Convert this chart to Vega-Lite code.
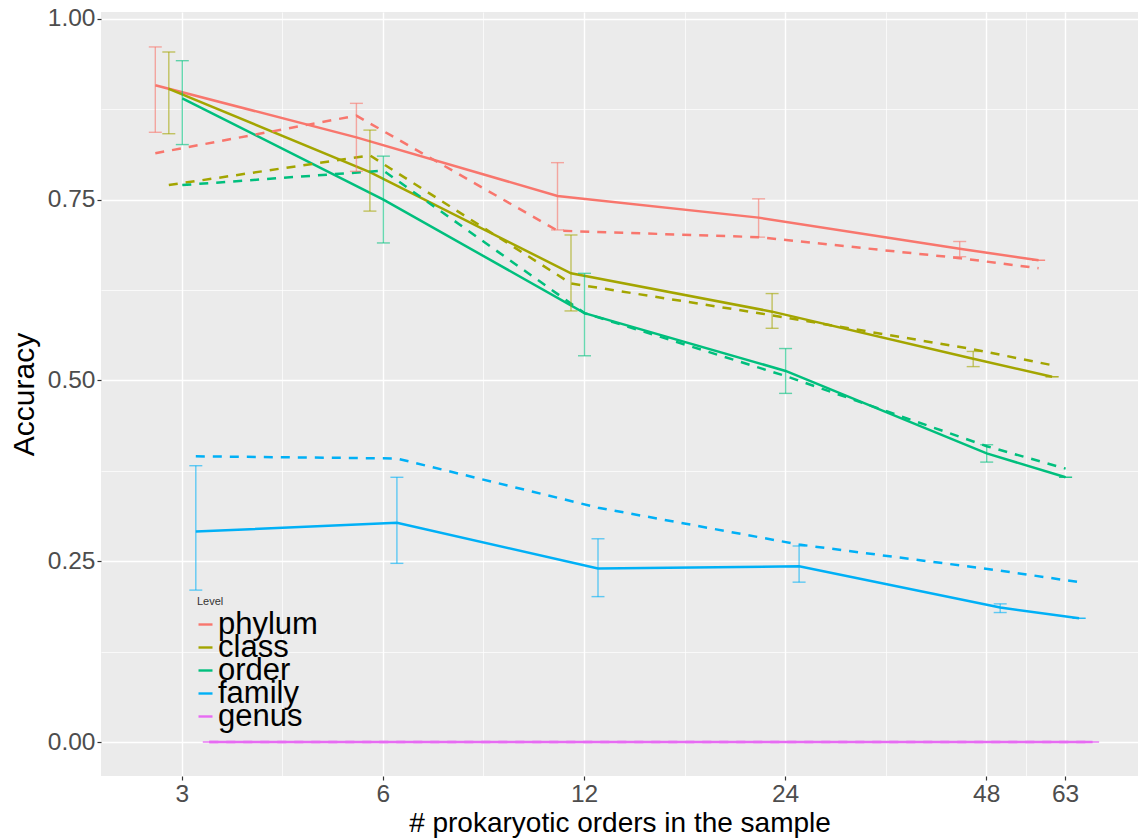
{
  "$schema": "https://vega.github.io/schema/vega-lite/v6.json",
  "width": 1037,
  "height": 764,
  "autosize": {"type": "none"},
  "padding": {"left": 101, "top": 12, "right": 0, "bottom": 62},
  "background": "white",
  "config": {
    "view": {"fill": "#EBEBEB", "stroke": null},
    "font": "Liberation Sans",
    "axis": {
      "domain": false,
      "gridColor": "white",
      "tickColor": "#333333",
      "tickSize": 4,
      "tickWidth": 1.2,
      "labelColor": "#4D4D4D",
      "labelFontSize": 24.5,
      "labelFont": "Liberation Sans",
      "titleFont": "Liberation Sans",
      "titleFontWeight": "normal",
      "titleColor": "black",
      "labelOverlap": false,
      "labelFlush": false
    },
    "legend": {
      "orient": "none",
      "legendX": 96,
      "legendY": 584,
      "padding": 0,
      "titleFontSize": 11,
      "titleFontWeight": "normal",
      "titleColor": "#333333",
      "titleFont": "Liberation Sans",
      "titlePadding": 2,
      "labelFontSize": 31,
      "labelFont": "Liberation Sans",
      "labelColor": "black",
      "labelOffset": -3,
      "symbolOffset": -7,
      "symbolType": "stroke",
      "symbolSize": 196,
      "symbolStrokeWidth": 2.4,
      "symbolOpacity": 1
    }
  },
  "data": {
    "values": [
      {"n": 3, "Level": "phylum", "Method": "A", "acc": 0.908, "lo": 0.843, "hi": 0.961},
      {"n": 6, "Level": "phylum", "Method": "A", "acc": 0.836, "lo": 0.789, "hi": 0.883},
      {"n": 12, "Level": "phylum", "Method": "A", "acc": 0.755, "lo": 0.708, "hi": 0.801},
      {"n": 24, "Level": "phylum", "Method": "A", "acc": 0.725, "lo": 0.698, "hi": 0.751},
      {"n": 48, "Level": "phylum", "Method": "A", "acc": 0.682, "lo": 0.671, "hi": 0.692},
      {"n": 63, "Level": "phylum", "Method": "A", "acc": 0.666, "lo": 0.666, "hi": 0.666},
      {"n": 3, "Level": "class", "Method": "A", "acc": 0.903, "lo": 0.841, "hi": 0.954},
      {"n": 6, "Level": "class", "Method": "A", "acc": 0.788, "lo": 0.734, "hi": 0.846},
      {"n": 12, "Level": "class", "Method": "A", "acc": 0.648, "lo": 0.596, "hi": 0.701},
      {"n": 24, "Level": "class", "Method": "A", "acc": 0.595, "lo": 0.572, "hi": 0.62},
      {"n": 48, "Level": "class", "Method": "A", "acc": 0.53, "lo": 0.519, "hi": 0.54},
      {"n": 63, "Level": "class", "Method": "A", "acc": 0.505, "lo": 0.505, "hi": 0.505},
      {"n": 3, "Level": "order", "Method": "A", "acc": 0.89, "lo": 0.826, "hi": 0.942},
      {"n": 6, "Level": "order", "Method": "A", "acc": 0.75, "lo": 0.69, "hi": 0.81},
      {"n": 12, "Level": "order", "Method": "A", "acc": 0.593, "lo": 0.534, "hi": 0.648},
      {"n": 24, "Level": "order", "Method": "A", "acc": 0.513, "lo": 0.482, "hi": 0.544},
      {"n": 48, "Level": "order", "Method": "A", "acc": 0.399, "lo": 0.387, "hi": 0.411},
      {"n": 63, "Level": "order", "Method": "A", "acc": 0.366, "lo": 0.366, "hi": 0.366},
      {"n": 3, "Level": "family", "Method": "A", "acc": 0.291, "lo": 0.21, "hi": 0.382},
      {"n": 6, "Level": "family", "Method": "A", "acc": 0.303, "lo": 0.247, "hi": 0.366},
      {"n": 12, "Level": "family", "Method": "A", "acc": 0.24, "lo": 0.201, "hi": 0.281},
      {"n": 24, "Level": "family", "Method": "A", "acc": 0.243, "lo": 0.221, "hi": 0.271},
      {"n": 48, "Level": "family", "Method": "A", "acc": 0.186, "lo": 0.179, "hi": 0.191},
      {"n": 63, "Level": "family", "Method": "A", "acc": 0.171, "lo": 0.171, "hi": 0.171},
      {"n": 3, "Level": "genus", "Method": "A", "acc": 0, "lo": 0, "hi": 0},
      {"n": 6, "Level": "genus", "Method": "A", "acc": 0, "lo": 0, "hi": 0},
      {"n": 12, "Level": "genus", "Method": "A", "acc": 0, "lo": 0, "hi": 0},
      {"n": 24, "Level": "genus", "Method": "A", "acc": 0, "lo": 0, "hi": 0},
      {"n": 48, "Level": "genus", "Method": "A", "acc": 0, "lo": 0, "hi": 0},
      {"n": 63, "Level": "genus", "Method": "A", "acc": 0, "lo": 0, "hi": 0},
      {"n": 3, "Level": "phylum", "Method": "B", "acc": 0.814},
      {"n": 6, "Level": "phylum", "Method": "B", "acc": 0.866},
      {"n": 12, "Level": "phylum", "Method": "B", "acc": 0.707},
      {"n": 24, "Level": "phylum", "Method": "B", "acc": 0.698},
      {"n": 48, "Level": "phylum", "Method": "B", "acc": 0.669},
      {"n": 63, "Level": "phylum", "Method": "B", "acc": 0.655},
      {"n": 3, "Level": "class", "Method": "B", "acc": 0.77},
      {"n": 6, "Level": "class", "Method": "B", "acc": 0.811},
      {"n": 12, "Level": "class", "Method": "B", "acc": 0.634},
      {"n": 24, "Level": "class", "Method": "B", "acc": 0.59},
      {"n": 48, "Level": "class", "Method": "B", "acc": 0.543},
      {"n": 63, "Level": "class", "Method": "B", "acc": 0.521},
      {"n": 3, "Level": "order", "Method": "B", "acc": 0.77},
      {"n": 6, "Level": "order", "Method": "B", "acc": 0.79},
      {"n": 12, "Level": "order", "Method": "B", "acc": 0.593},
      {"n": 24, "Level": "order", "Method": "B", "acc": 0.506},
      {"n": 48, "Level": "order", "Method": "B", "acc": 0.409},
      {"n": 63, "Level": "order", "Method": "B", "acc": 0.378},
      {"n": 3, "Level": "family", "Method": "B", "acc": 0.395},
      {"n": 6, "Level": "family", "Method": "B", "acc": 0.392},
      {"n": 12, "Level": "family", "Method": "B", "acc": 0.324},
      {"n": 24, "Level": "family", "Method": "B", "acc": 0.273},
      {"n": 48, "Level": "family", "Method": "B", "acc": 0.237},
      {"n": 63, "Level": "family", "Method": "B", "acc": 0.221},
      {"n": 3, "Level": "genus", "Method": "B", "acc": 0},
      {"n": 6, "Level": "genus", "Method": "B", "acc": 0},
      {"n": 12, "Level": "genus", "Method": "B", "acc": 0},
      {"n": 24, "Level": "genus", "Method": "B", "acc": 0},
      {"n": 48, "Level": "genus", "Method": "B", "acc": 0},
      {"n": 63, "Level": "genus", "Method": "B", "acc": 0}
    ]
  },
  "encoding": {
    "x": {
      "field": "n",
      "type": "quantitative",
      "scale": {"type": "log", "base": 2, "domain": [2.2707, 81.0], "nice": false},
      "axis": {
        "title": "# prokaryotic orders in the sample",
        "titleFontSize": 28,
        "titlePadding": 4,
        "labelPadding": 2,
        "values": [3, 4.2426, 6, 8.4853, 12, 16.9706, 24, 33.9411, 48, 54.9909, 63],
        "labelExpr": "indexof([3,6,12,24,48,63], datum.value) >= 0 ? datum.label : ''",
        "gridWidth": {"condition": {"test": "indexof([3,6,12,24,48,63], datum.value) >= 0", "value": 1.4}, "value": 0.7},
        "tickOpacity": {"condition": {"test": "indexof([3,6,12,24,48,63], datum.value) >= 0", "value": 1}, "value": 0}
      }
    },
    "color": {
      "field": "Level",
      "type": "nominal",
      "scale": {"domain": ["phylum", "class", "order", "family", "genus"], "range": ["#F8766D", "#A3A500", "#00BF7D", "#00B0F6", "#E76BF3"]},
      "legend": {"title": "Level", "rowPadding": -9, "gridAlign": "none"}
    }
  },
  "layer": [
    {
      "transform": [{"filter": "datum.Method === 'A'"}],
      "mark": {"type": "line", "strokeWidth": 2.5, "xOffset": {"expr": "indexof(['phylum','class','order','family','genus'], datum.Level) * 13.5 - 26.5"}},
      "encoding": {
        "y": {
          "field": "acc",
          "type": "quantitative",
          "scale": {"domain": [-0.047, 1.0093], "nice": false, "zero": false},
          "axis": {
            "title": "Accuracy",
            "titleFontSize": 30,
            "titlePadding": 8,
            "labelPadding": 2,
            "values": [0, 0.125, 0.25, 0.375, 0.5, 0.625, 0.75, 0.875, 1],
            "labelExpr": "indexof([0,0.25,0.5,0.75,1], datum.value) >= 0 ? format(datum.value, '.2f') : ''",
            "gridWidth": {"condition": {"test": "indexof([0,0.25,0.5,0.75,1], datum.value) >= 0", "value": 1.4}, "value": 0.7},
            "tickOpacity": {"condition": {"test": "indexof([0,0.25,0.5,0.75,1], datum.value) >= 0", "value": 1}, "value": 0}
          }
        }
      }
    },
    {
      "transform": [{"filter": "datum.Method === 'B'"}],
      "mark": {"type": "line", "strokeWidth": 2.5, "strokeDash": [9, 8], "xOffset": {"expr": "indexof(['phylum','class','order','family','genus'], datum.Level) * 13.5 - 26.5"}},
      "encoding": {
        "y": {"field": "acc", "type": "quantitative", "title": "Accuracy", "scale": {"domain": [-0.047, 1.0093], "nice": false, "zero": false}}
      }
    },
    {
      "transform": [{"filter": "datum.Method === 'A'"}],
      "mark": {"type": "rule", "strokeWidth": 1.4, "opacity": 0.6, "xOffset": {"expr": "indexof(['phylum','class','order','family','genus'], datum.Level) * 13.5 - 26.5"}},
      "encoding": {
        "y": {"field": "lo", "type": "quantitative", "title": "Accuracy", "scale": {"domain": [-0.047, 1.0093], "nice": false, "zero": false}},
        "y2": {"field": "hi"}
      }
    },
    {
      "transform": [{"filter": "datum.Method === 'A'"}],
      "mark": {"type": "tick", "orient": "horizontal", "size": 13, "thickness": 1.4, "opacity": 0.6, "xOffset": {"expr": "indexof(['phylum','class','order','family','genus'], datum.Level) * 13.5 - 26.5"}},
      "encoding": {
        "y": {"field": "lo", "type": "quantitative", "title": "Accuracy", "scale": {"domain": [-0.047, 1.0093], "nice": false, "zero": false}}
      }
    },
    {
      "transform": [{"filter": "datum.Method === 'A'"}],
      "mark": {"type": "tick", "orient": "horizontal", "size": 13, "thickness": 1.4, "opacity": 0.6, "xOffset": {"expr": "indexof(['phylum','class','order','family','genus'], datum.Level) * 13.5 - 26.5"}},
      "encoding": {
        "y": {"field": "hi", "type": "quantitative", "title": "Accuracy", "scale": {"domain": [-0.047, 1.0093], "nice": false, "zero": false}}
      }
    }
  ]
}
